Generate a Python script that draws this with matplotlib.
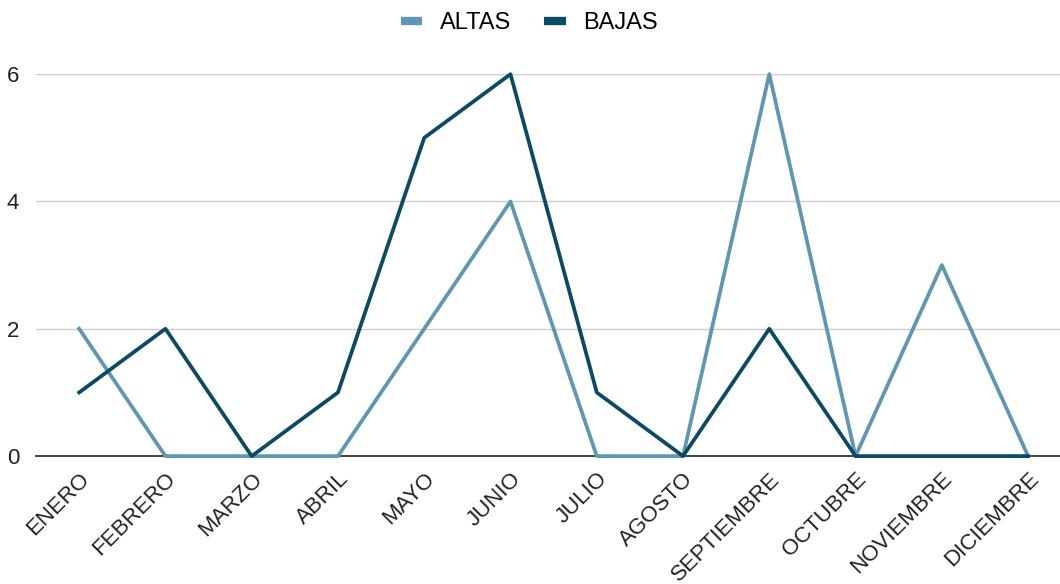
import matplotlib
matplotlib.use('Agg')
import matplotlib.pyplot as plt

meses = ['ENERO', 'FEBRERO', 'MARZO', 'ABRIL', 'MAYO', 'JUNIO', 'JULIO',
         'AGOSTO', 'SEPTIEMBRE', 'OCTUBRE', 'NOVIEMBRE', 'DICIEMBRE']
altas = [2, 0, 0, 0, 2, 4, 0, 0, 6, 0, 3, 0]
bajas = [1, 2, 0, 1, 5, 6, 1, 0, 2, 0, 0, 0]
yticks = [0, 2, 4, 6]

plt.rcParams['font.family'] = ['Liberation Sans', 'DejaVu Sans']

fig = plt.figure(figsize=(10.6, 5.84), dpi=100)
ax = fig.add_axes([0.034, 0.219, 0.966, 0.654])

x = list(range(len(meses)))
ax.plot(x, altas, color='#5f97b3', lw=2.7, label='ALTAS', clip_on=False, zorder=3)
ax.plot(x, bajas, color='#0b4a64', lw=2.7, label='BAJAS', clip_on=False, zorder=4)

ax.set_xlim(-0.5, 11.37)
ax.set_ylim(0, 6)
ax.set_yticks(yticks)
ax.set_xticks(x)
ax.set_xticklabels(meses, rotation=45, ha='right', va='top', rotation_mode='anchor')
ax.tick_params(axis='both', length=0, labelsize=16, colors='#222222')
ax.tick_params(axis='x', pad=9)
ax.tick_params(axis='y', pad=12)

ax.grid(axis='y', color='#cccccc', lw=1)
ax.set_axisbelow(True)
for s in ['top', 'right', 'left']:
    ax.spines[s].set_visible(False)
ax.spines['bottom'].set_color('#333333')
ax.spines['bottom'].set_linewidth(1.3)
ax.spines['bottom'].set_zorder(2)

leg = ax.legend(loc='center', bbox_to_anchor=(0.499, 0.96), bbox_transform=fig.transFigure,
                ncol=2, frameon=False, fontsize=17, handlelength=0.93, handletextpad=0.72,
                columnspacing=1.4)
for h in leg.get_lines():
    h.set_linewidth(6)
    h.set_solid_capstyle('butt')

fig.savefig('out.png', dpi=100)
